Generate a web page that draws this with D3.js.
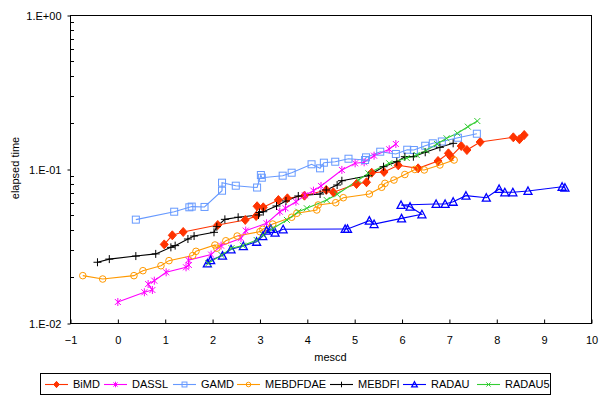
<!DOCTYPE html>
<html><head><meta charset="utf-8">
<script src="https://cdn.jsdelivr.net/npm/d3@7"></script>
<style>body{margin:0;background:#fff}svg{display:block;font-family:"Liberation Sans",Arial,sans-serif}</style>
</head><body><svg id="c" width="603" height="410"></svg>
<script>
const xTicks = [-1,0,1,2,3,4,5,6,7,8,9,10];
const yTicks = [0.01,0.1,1];
const yTickLabels = ["1.E-02","1.E-01","1.E+00"];
const xTitle = "mescd";
const yTitle = "elapsed time";

const BiMD = [[0.99,0.0324],[1.16,0.0371],[1.39,0.0390],[2.12,0.0433],[2.70,0.0467],[2.93,0.0495],[2.95,0.0573],[3.08,0.0564],[3.40,0.0629],[3.59,0.0645],[3.95,0.0671],[4.41,0.0731],[4.56,0.0706],[5.05,0.0799],[5.26,0.0820],[5.37,0.0946],[5.63,0.0956],[5.93,0.1057],[6.35,0.1010],[6.77,0.1127],[6.99,0.1264],[7.04,0.1202],[7.26,0.1410],[7.38,0.1328],[7.66,0.1497],[8.36,0.1606],[8.49,0.1559],[8.59,0.1663]];
const DASSL = [[0.01,0.01369],[0.57,0.01583],[0.74,0.01638],[0.65,0.0179],[0.78,0.01883],[1.03,0.02134],[1.45,0.0230],[1.51,0.0238],[1.50,0.0256],[1.98,0.0278],[2.19,0.0318],[2.61,0.0355],[2.71,0.0398],[3.15,0.0444],[3.43,0.0528],[3.55,0.0556],[3.77,0.0613],[3.96,0.0675],[4.14,0.0723],[4.30,0.0776],[4.74,0.0986],[5.02,0.1089],[5.21,0.1105],[5.42,0.1220],[5.74,0.1343],[5.88,0.1453]];
const GAMD = [[0.39,0.0469],[1.20,0.0528],[1.52,0.0564],[1.57,0.0570],[1.84,0.0567],[2.21,0.0723],[2.21,0.0815],[2.50,0.0779],[2.95,0.0758],[3.03,0.0914],[3.05,0.0878],[3.49,0.0905],[3.68,0.0946],[4.10,0.1073],[4.28,0.1010],[4.36,0.1099],[4.60,0.1115],[4.88,0.1166],[5.23,0.1144],[5.25,0.1190],[5.55,0.1295],[5.88,0.1252],[6.12,0.1334],[6.26,0.1328],[6.50,0.1416],[6.66,0.1468],[6.85,0.1509],[7.19,0.1596],[7.59,0.1695]];
const MEBDFDAE = [[-0.73,0.0203],[-0.31,0.0193],[0.35,0.0203],[0.54,0.02186],[0.92,0.02355],[1.09,0.0254],[1.59,0.0274],[1.66,0.0292],[2.06,0.0321],[2.10,0.0306],[2.29,0.0342],[2.53,0.0367],[3.01,0.0392],[3.07,0.0406],[3.28,0.0439],[3.68,0.0486],[3.79,0.0516],[4.21,0.0542],[4.24,0.0584],[4.61,0.0604],[4.77,0.0651],[5.32,0.0688],[5.58,0.0761],[5.65,0.0807],[5.84,0.0848],[6.07,0.0921],[6.28,0.0993],[6.48,0.0986],[6.81,0.1062],[7.11,0.1144]];
const MEBDFI = [[-0.42,0.0248],[-0.17,0.0260],[0.39,0.0272],[0.81,0.0281],[1.13,0.0310],[1.22,0.0318],[1.49,0.0351],[1.62,0.0367],[2.04,0.0388],[2.10,0.0422],[2.27,0.0471],[2.55,0.0486],[2.98,0.0503],[3.00,0.0522],[3.08,0.0528],[3.36,0.0575],[3.56,0.0620],[3.82,0.0668],[4.28,0.0688],[4.41,0.0731],[4.64,0.0787],[4.74,0.0839],[5.30,0.0905],[5.62,0.1035],[5.90,0.1115],[6.07,0.1202],[6.25,0.1202],[6.50,0.1284],[6.81,0.1383],[7.09,0.1468]];
const RADAU = [[1.90,0.0244],[1.97,0.0256],[2.22,0.0274],[2.40,0.0301],[2.66,0.0316],[2.94,0.0337],[3.07,0.0367],[3.15,0.0398],[3.24,0.0408],[3.33,0.0386],[3.50,0.0406],[4.81,0.0408],[4.86,0.0408],[5.32,0.0462],[5.42,0.0439],[6.00,0.0478],[6.43,0.0508],[6.18,0.0569],[5.99,0.0584],[6.73,0.0593],[6.92,0.0593],[7.09,0.0613],[7.36,0.0671],[7.79,0.0651],[8.06,0.0742],[8.18,0.0706],[8.35,0.0706],[8.67,0.0720],[9.39,0.0767],[9.45,0.0756]];
const RADAU5 = [[1.92,0.0244],[2.20,0.0276],[2.41,0.0306],[2.65,0.0318],[2.94,0.0346],[3.08,0.0373],[3.29,0.0412],[3.58,0.0467],[3.82,0.0528],[4.00,0.0556],[4.42,0.0629],[4.64,0.0685],[5.09,0.0848],[5.30,0.0938],[5.74,0.1089],[6.11,0.1179],[6.32,0.1233],[6.52,0.1318],[6.75,0.1453],[6.95,0.1582],[7.18,0.1705],[7.40,0.1883],[7.60,0.2049]];

const seriesNames = ["BiMD","DASSL","GAMD","MEBDFDAE","MEBDFI","RADAU","RADAU5"];
const seriesData = [BiMD,DASSL,GAMD,MEBDFDAE,MEBDFI,RADAU,RADAU5];
const seriesColors = ["#FF3300","#FF00FF","#6699FF","#FF9900","#000000","#0000FF","#33CC33"];
const seriesMarkers = ["diamondFill","asterisk","square","circle","plus","triangle","cross"];

const svg = d3.select("#c");
const L=70,R=591,T=15,B=323;
const x = d3.scaleLinear().domain([-1,10]).range([L,R]);
const y = d3.scaleLog().domain([0.01,1]).range([B,T]);

svg.append("rect").attr("x",L+0.5).attr("y",T+0.5).attr("width",R-L).attr("height",B-T)
  .attr("fill","none").attr("stroke","#000").attr("stroke-width",1);

const xa = svg.append("g").attr("transform",`translate(0.5,${B+0.5})`)
  .call(d3.axisBottom(x).tickValues(xTicks).tickSize(-4).tickPadding(13).tickFormat(d3.format("d")));
xa.select(".domain").remove();
xa.selectAll("text").attr("font-size",11).attr("fill","#000").attr("font-family","Liberation Sans, Arial, sans-serif");

const ya = svg.append("g").attr("transform",`translate(${L+0.5},0.5)`)
  .call(d3.axisLeft(y).tickValues(yTicks).tickSize(3).tickPadding(6).tickFormat((d,i)=>yTickLabels[i]));
ya.select(".domain").remove();
ya.selectAll("text").attr("font-size",11).attr("fill","#000").attr("font-family","Liberation Sans, Arial, sans-serif");
const minor = [];
[0.01,0.1].forEach(b=>{for(let k=2;k<=9;k++) minor.push(b*k);});
svg.append("g").selectAll("line").data(minor).join("line")
  .attr("x1",L+0.5).attr("x2",L+4).attr("y1",d=>Math.round(y(d))+0.5).attr("y2",d=>Math.round(y(d))+0.5)
  .attr("stroke","#000");

svg.append("text").attr("x",(L+R)/2).attr("y",361).attr("text-anchor","middle")
  .attr("font-size",11).text(xTitle);
svg.append("text").attr("transform",`translate(19,168) rotate(-90)`).attr("text-anchor","middle")
  .attr("font-size",11).text(yTitle);

function drawMarker(g,type,color,cx,cy,k){
  k = k||1;
  const s=3.5*k;
  if(type==="diamondFill"){
    g.append("path").attr("d",`M${cx},${cy-4.5*k}L${cx+4*k},${cy}L${cx},${cy+4.5*k}L${cx-4*k},${cy}Z`).attr("fill",color).attr("stroke",color);
  } else if(type==="square"){
    g.append("rect").attr("x",cx-s).attr("y",cy-s).attr("width",2*s).attr("height",2*s).attr("fill","none").attr("stroke",color);
  } else if(type==="circle"){
    g.append("circle").attr("cx",cx).attr("cy",cy).attr("r",3.3*k).attr("fill","none").attr("stroke",color);
  } else if(type==="triangle"){
    g.append("path").attr("d",`M${cx},${cy-4*k}L${cx+4*k},${cy+3.5*k}L${cx-4*k},${cy+3.5*k}Z`).attr("fill","none").attr("stroke",color).attr("stroke-width",1.3);
  } else if(type==="plus"){
    g.append("path").attr("d",`M${cx-4*k},${cy}H${cx+4*k}M${cx},${cy-4*k}V${cy+4*k}`).attr("stroke",color).attr("fill","none");
  } else if(type==="cross"){
    g.append("path").attr("d",`M${cx-3*k},${cy-3*k}L${cx+3*k},${cy+3*k}M${cx-3*k},${cy+3*k}L${cx+3*k},${cy-3*k}`).attr("stroke",color).attr("fill","none");
  } else if(type==="asterisk"){
    g.append("path").attr("d",`M${cx-3*k},${cy-3*k}L${cx+3*k},${cy+3*k}M${cx-3*k},${cy+3*k}L${cx+3*k},${cy-3*k}M${cx},${cy-4*k}V${cy+4*k}`).attr("stroke",color).attr("fill","none");
  }
}

const line = d3.line().x(d=>x(d[0])).y(d=>y(d[1]));
const plot = svg.append("g");
seriesData.forEach((data,i)=>{
  plot.append("path").datum(data).attr("d",line).attr("fill","none").attr("stroke",seriesColors[i]).attr("stroke-width",1.1);
});
seriesData.forEach((data,i)=>{
  const g = plot.append("g");
  data.forEach(d=>drawMarker(g,seriesMarkers[i],seriesColors[i],x(d[0]),y(d[1]),1));
});

const legX=[45,104,173,237,330,403,477];
const leg = svg.append("g");
leg.append("rect").attr("x",40.5).attr("y",373.5).attr("width",510).attr("height",21).attr("fill","#fff").attr("stroke","#000");
seriesNames.forEach((n,i)=>{
  const lx=legX[i], ly=384;
  leg.append("line").attr("x1",lx).attr("x2",lx+23).attr("y1",ly+0.5).attr("y2",ly+0.5).attr("stroke",seriesColors[i]).attr("stroke-width",1.1);
  drawMarker(leg,seriesMarkers[i],seriesColors[i],lx+11.5,ly+0.5,0.7);
  leg.append("text").attr("x",lx+28).attr("y",ly+4).attr("font-size",11).text(n);
});
</script></body></html>
